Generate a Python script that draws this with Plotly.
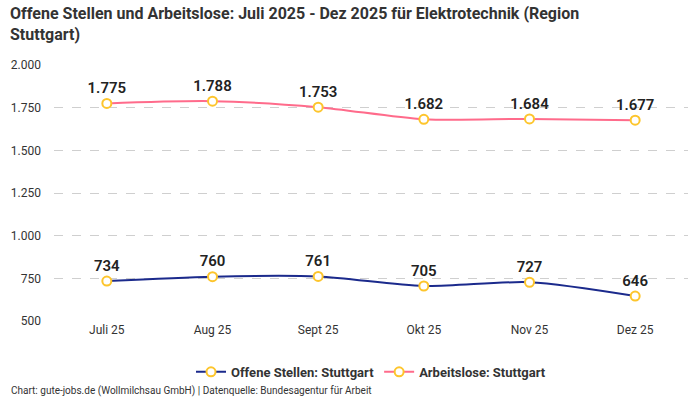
import plotly.graph_objects as go

# Monate und Werte (Elektrotechnik, Region Stuttgart)
months = ["Juli 25", "Aug 25", "Sept 25", "Okt 25", "Nov 25", "Dez 25"]
offene_stellen = [734, 760, 761, 705, 727, 646]
arbeitslose = [1775, 1788, 1753, 1682, 1684, 1677]
y_ticks = [500, 750, 1000, 1250, 1500, 1750, 2000]

FONT = "Roboto, sans-serif"
PLOT_H = 256  # Hoehe der Zeichenflaeche in px


def fmt(v):
    return f"{v:,}".replace(",", ".")


fig = go.Figure()

for name, vals, color in [
    ("Offene Stellen: Stuttgart", offene_stellen, "#1b2a8c"),
    ("Arbeitslose: Stuttgart", arbeitslose, "#ff6b8b"),
]:
    fig.add_trace(
        go.Scatter(
            x=months,
            y=vals,
            name=name,
            mode="lines+markers+text",
            line=dict(color=color, width=2, shape="spline", smoothing=0.8),
            marker=dict(size=9, color="white", line=dict(color="#fdc52c", width=2)),
            text=[fmt(v) for v in vals],
            textposition="top center",
            textfont=dict(family=FONT, size=15, color="#222222", weight=600),
            cliponaxis=False,
        )
    )

fig.update_layout(
    width=700,
    height=400,
    margin=dict(l=54, r=12, t=65, b=79),
    paper_bgcolor="white",
    plot_bgcolor="white",
    font=dict(family=FONT, color="#333333"),
    xaxis=dict(
        range=[-0.5, 5.5],
        showgrid=False,
        showline=False,
        ticks="",
        tickfont=dict(size=12, color="#333333"),
    ),
    yaxis=dict(
        range=[500, 2000],
        tickvals=y_ticks,
        ticktext=[fmt(v) for v in y_ticks],
        showgrid=True,
        gridcolor="#cfcfcf",
        griddash="dash",
        zeroline=False,
        ticklabelstandoff=12,
        tickfont=dict(size=12, color="#333333"),
    ),
    legend=dict(
        orientation="h",
        x=0.5,
        xanchor="center",
        y=-0.14,
        yanchor="top",
        font=dict(size=13, color="#333333", weight="bold"),
    ),
    showlegend=True,
)

# Titel
fig.add_annotation(
    text="<b>Offene Stellen und Arbeitslose: Juli 2025 - Dez 2025 für Elektrotechnik (Region<br>Stuttgart)</b>",
    xref="paper",
    yref="paper",
    x=-54 / 634,
    y=1 + 63 / PLOT_H,
    xanchor="left",
    yanchor="top",
    xshift=8,
    align="left",
    showarrow=False,
    font=dict(size=16, color="#333333"),
)

# Quelle
fig.add_annotation(
    text="Chart: gute-jobs.de (Wollmilchsau GmbH) | Datenquelle: Bundesagentur für Arbeit",
    xref="paper",
    yref="paper",
    x=-54 / 634,
    y=-79 / PLOT_H,
    xanchor="left",
    yanchor="bottom",
    xshift=9,
    yshift=1,
    showarrow=False,
    font=dict(size=10, color="#333333"),
)

fig.write_html(
    "out.html",
    config={"displayModeBar": False},
    post_script="document.body.style.margin='0';",
)
